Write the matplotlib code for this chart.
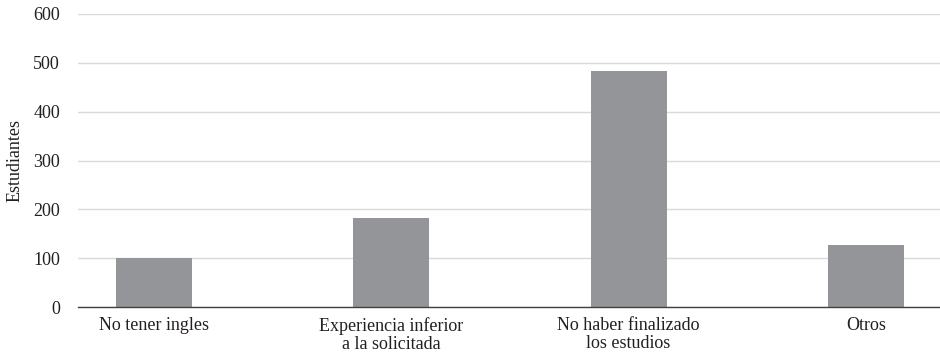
import matplotlib
matplotlib.use("Agg")
import matplotlib.pyplot as plt
import numpy as np

categories = ["No tener ingles", "Experiencia inferior\na la solicitada",
              "No haber finalizado\nlos estudios", "Otros"]
values = [101, 183, 483, 127]
yticks = [0, 100, 200, 300, 400, 500, 600]

plt.rcParams["font.family"] = ["Liberation Serif", "DejaVu Serif"]

fig = plt.figure(figsize=(9.4, 3.56), dpi=100)
ax = fig.add_axes([0.083, 0.137, 0.919, 0.824])

x = np.arange(len(categories))
ax.bar(x, values, width=0.32, color="#939598", zorder=3)

ax.set_xlim(-0.32, len(categories) - 1 + 0.32)
ax.set_ylim(0, 600)
ax.set_yticks(yticks)
ax.set_xticks(x)
ax.set_xticklabels(categories, fontsize=13, color="#231f20", linespacing=1.1)
ax.tick_params(axis="y", labelsize=13, colors="#231f20", length=0, pad=13)
ax.tick_params(axis="x", length=0, pad=7)

ax.grid(axis="y", color="#d9d9d9", linewidth=1.0, zorder=0)
for side in ("top", "right", "left"):
    ax.spines[side].set_visible(False)
ax.spines["bottom"].set_color("#404040")
ax.spines["bottom"].set_linewidth(1.0)
ax.spines["bottom"].set_zorder(4)

ax.set_ylabel("Estudiantes", fontsize=13, color="#231f20", labelpad=7)

fig.savefig("out.png", dpi=100)
